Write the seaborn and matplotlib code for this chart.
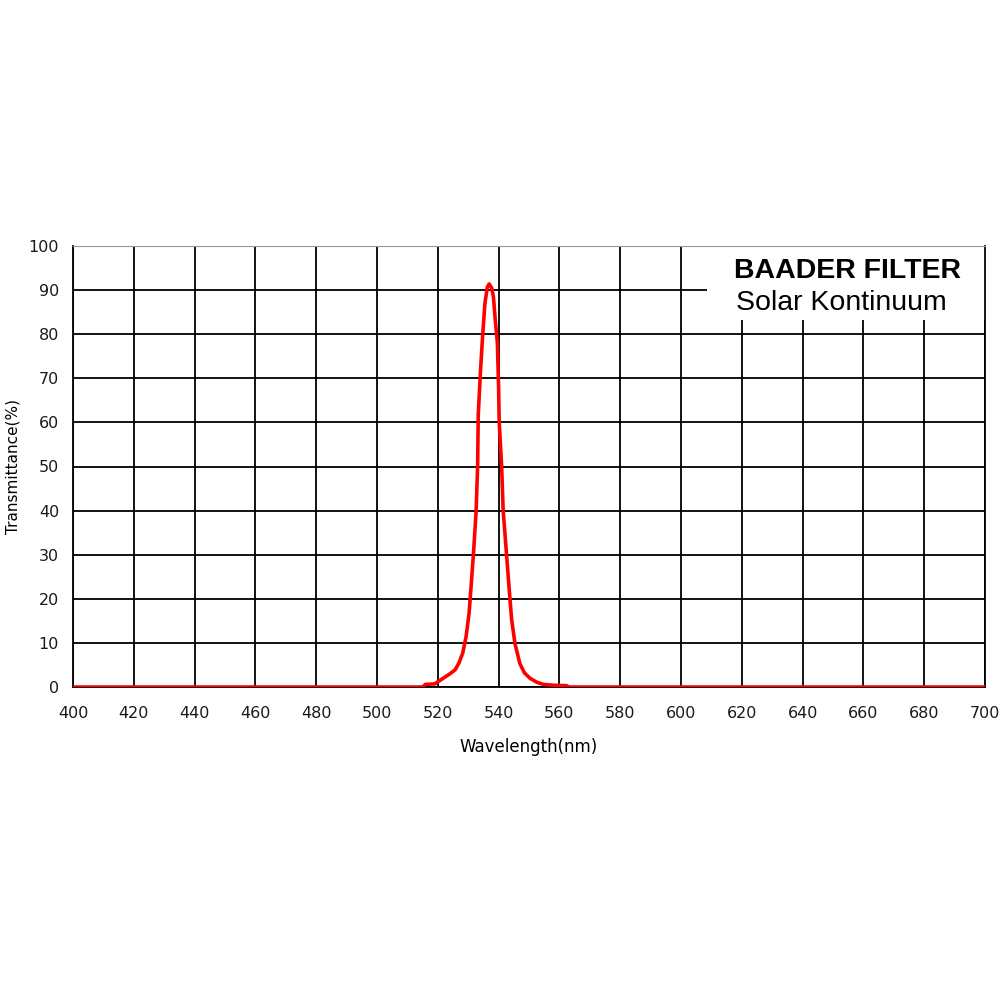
import numpy as np
import pandas as pd
import matplotlib
matplotlib.use("Agg")
import matplotlib.pyplot as plt
import seaborn as sns
from matplotlib.patches import Rectangle

# transmission curve
wavelength = [400, 515, 516, 519, 521.8, 524, 525.7, 527, 528.2, 529.3, 530.3,
              530.9, 531.7, 532.6, 533.1, 533.3, 534.1, 534.8, 535.5, 536.3,
              536.9, 537.7, 538.3, 538.8, 539.6, 540.0, 540.2, 541.0, 541.5,
              542.6, 543.5, 544.3, 545.4, 547.0, 548.5, 550.3, 552.5, 554.7,
              558, 562.4, 563, 700]
transmittance = [0, 0, 0.6, 0.7, 2.0, 3.0, 3.9, 5.5, 7.7, 11.4, 16.8,
                 22.4, 29.9, 39.8, 50, 61.7, 72.3, 80.2, 87, 90.7,
                 91.4, 90.5, 88.5, 84, 78, 68, 60, 50, 40,
                 30.2, 22, 15.2, 9.8, 5.3, 3.2, 2.0, 1.1, 0.6,
                 0.4, 0.3, 0, 0]
x_ticks = list(range(400, 701, 20))
y_ticks = list(range(0, 101, 10))

df = pd.DataFrame({"wl": wavelength, "T": transmittance})

sns.set_style("white")
plt.rcParams["font.family"] = ["DejaVu Sans"]

fig = plt.figure(figsize=(10, 10), dpi=100)
ax = fig.add_axes([0.073, 0.313, 0.912, 0.441])

sns.lineplot(data=df, x="wl", y="T", color="#ff0000", linewidth=2.6, ax=ax, zorder=3)

ax.set_xlim(400, 700)
ax.set_ylim(0, 100)
ax.set_xticks(x_ticks)
ax.set_yticks(y_ticks)
ax.tick_params(axis="both", direction="out", length=5, width=1.3, color="black",
               labelsize=11.5, labelcolor="#1a1a1a")
ax.tick_params(axis="x", pad=9)
ax.tick_params(axis="y", pad=5)

ax.grid(True, color="black", linewidth=1.3)
ax.set_axisbelow(True)
for side in ["left", "bottom", "right"]:
    ax.spines[side].set_color("black")
    ax.spines[side].set_linewidth(1.3)
ax.spines["top"].set_color("#999999")
ax.spines["top"].set_linewidth(0.8)

ax.set_xlabel("Wavelength(nm)", fontsize=12, color="black", labelpad=12)
ax.set_ylabel("Transmittance(%)", fontsize=11, color="black", labelpad=6)

# white title box in the upper right corner
ax.add_patch(Rectangle((0.695, 0.832), 0.305, 0.168, transform=ax.transAxes,
                       facecolor="white", edgecolor="none", zorder=2))
ax.plot([1, 1], [0.832, 1], transform=ax.transAxes, color="#999999", lw=0.8, zorder=4)
ax.text(0.725, 0.928, "BAADER FILTER", transform=ax.transAxes, fontsize=20.5,
        fontweight="bold", family="Liberation Sans", color="black",
        va="baseline", zorder=5)
ax.text(0.727, 0.855, "Solar Kontinuum", transform=ax.transAxes, fontsize=20.5,
        family="Liberation Sans", color="black", va="baseline", zorder=5)

fig.savefig("out.png", dpi=100, facecolor="white")
